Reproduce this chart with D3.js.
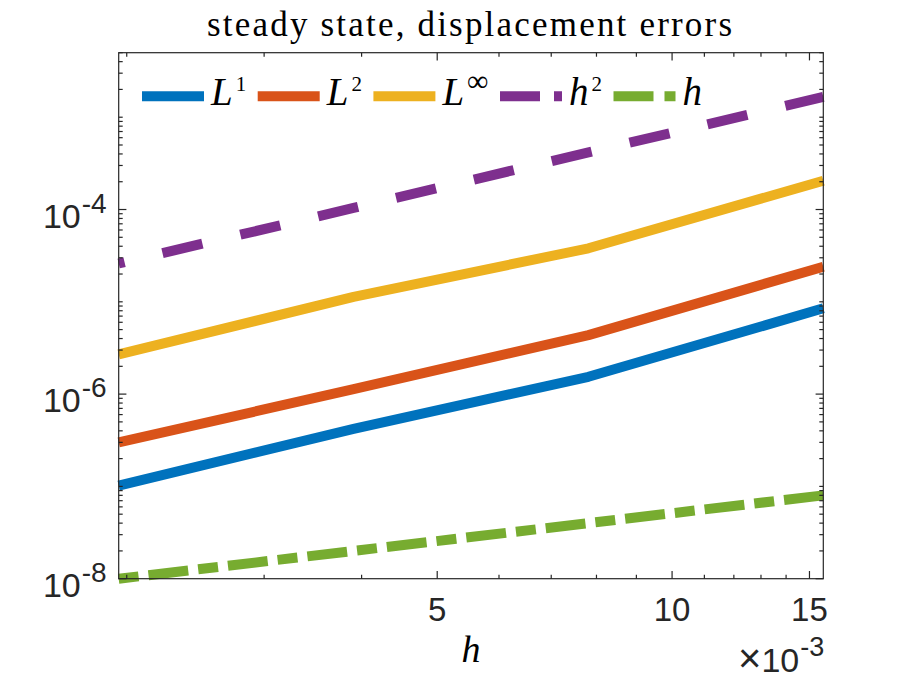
<!DOCTYPE html>
<html><head><meta charset="utf-8">
<script src="https://cdn.jsdelivr.net/npm/d3@7/dist/d3.min.js"></script>
<style>body{margin:0;background:#fff}svg{display:block}</style>
</head><body>
<svg id="chart" width="910" height="680"></svg>
<script>
// ---- data ----
const hValues  = [0.001953125, 0.00390625, 0.0078125, 0.015625];
const errL1    = [1.02e-7, 4.2e-7, 1.54e-6, 8.5e-6];
const errL2    = [3.0e-7, 1.13e-6, 4.36e-6, 2.4e-5];
const errLinf  = [2.7e-6, 1.13e-5, 3.8e-5, 2.05e-4];
const refH2    = [2.6e-5, 1.04e-4, 4.15e-4, 1.66e-3];
const refH     = [1.0e-8, 2.0e-8, 4.0e-8, 8.0e-8];
const seriesBase = ["L", "L", "L", "h", "h"];
const seriesSup  = ["1", "2", "\u221E", "2", ""];
const xTicks = [0.005, 0.010, 0.015];
const xTickLabels = ["5", "10", "15"];
const yTicks = [1e-8, 1e-6, 1e-4];
const yTickExponents = ["-8", "-6", "-4"];
const xDomain = [0.001953125, 0.015625];
const yDomain = [1e-8, 5e-3];
const titleText = "steady state, displacement errors";
const xLabelText = "h";
const xExponentText = "-3";

// ---- styles ----
const colors = ["#0072BD", "#D95319", "#EDB120", "#7E2F8E", "#77AC30"];
const dashes = [null, null, null, "41,39", "20,10,40,10"];
const dashOffsets = [0, 0, 0, 35, 0];
const legendDashes = [null, null, null, "40,14", "40,11,12,10"];
const axisColor = "#262626";
const sans = "'Liberation Sans', Arial, sans-serif";
const serif = "'Liberation Serif', 'Times New Roman', serif";

const margin = {left: 118.7, right: 910 - 823.3, top: 52.7, bottom: 680 - 578.7};
const W = 910, H = 680;
const svg = d3.select("#chart");

const x = d3.scaleLog().domain(xDomain).range([margin.left, W - margin.right]);
const y = d3.scaleLog().domain(yDomain).range([H - margin.bottom, margin.top]);

const series = [errL1, errL2, errLinf, refH2, refH].map((vals, i) => ({
  values: hValues.map((h, j) => ({h, v: vals[j]})),
  color: colors[i], dash: dashes[i], offset: dashOffsets[i],
  base: seriesBase[i], sup: seriesSup[i], legendDash: legendDashes[i]
}));

// minor ticks
const xMinor = [];
for (let k = 2; k <= 15; k++) {
  const v = k * 1e-3;
  if (v < xDomain[0]) continue;
  if (k === 10 || xTicks.some(t => Math.abs(t - v) < 1e-9)) continue;
  xMinor.push(v);
}
const yMinor = [];
for (let e = -8; e <= -3; e++) {
  for (let k = 1; k <= 9; k++) {
    const v = k * Math.pow(10, e);
    if (v > yDomain[1] * 1.0001) continue;
    if (yTicks.some(t => Math.abs(Math.log10(t) - Math.log10(v)) < 1e-6)) continue;
    yMinor.push(v);
  }
}

const x0 = margin.left, x1 = W - margin.right, y0 = H - margin.bottom, y1 = margin.top;
const majorLen = 7.7, minorLen = 4;

// lines
const line = d3.line().x(d => x(d.h)).y(d => y(d.v));
const gLines = svg.append("g");
series.forEach(s => {
  gLines.append("path").datum(s.values)
    .attr("d", line)
    .attr("fill", "none")
    .attr("stroke", s.color)
    .attr("stroke-width", 10)
    .attr("stroke-linejoin", "round")
    .attr("stroke-linecap", "butt")
    .attr("stroke-dasharray", s.dash)
    .attr("stroke-dashoffset", s.offset);
});

// axes box and ticks
const gAx = svg.append("g").attr("stroke", axisColor).attr("stroke-width", 1.2);
gAx.append("rect").attr("x", x0).attr("y", y1).attr("width", x1 - x0).attr("height", y0 - y1)
  .attr("fill", "none");
function xt(vals, len) {
  vals.forEach(v => {
    const px = x(v);
    gAx.append("line").attr("x1", px).attr("x2", px).attr("y1", y0).attr("y2", y0 - len);
    gAx.append("line").attr("x1", px).attr("x2", px).attr("y1", y1).attr("y2", y1 + len);
  });
}
function yt(vals, len) {
  vals.forEach(v => {
    const py = y(v);
    gAx.append("line").attr("y1", py).attr("y2", py).attr("x1", x0).attr("x2", x0 + len);
    gAx.append("line").attr("y1", py).attr("y2", py).attr("x1", x1).attr("x2", x1 - len);
  });
}
xt(xTicks, majorLen); xt(xMinor, minorLen);
yt(yTicks, majorLen); yt(yMinor, minorLen);

// x tick labels
xTicks.forEach((t, i) => {
  svg.append("text").attr("x", x(t)).attr("y", y0 + 42.5)
    .attr("text-anchor", "middle").attr("font-family", sans).attr("font-size", 33)
    .attr("fill", axisColor).text(xTickLabels[i]);
});
// x exponent
const ex = svg.append("text").attr("x", x1 + 1).attr("y", 671.5).attr("text-anchor", "end")
  .attr("font-family", sans).attr("font-size", 34).attr("fill", axisColor);
ex.append("tspan").attr("font-size", 40).attr("font-weight", 300).text("\u00D7");
ex.append("tspan").text("10");
ex.append("tspan").attr("font-size", 27).attr("dy", -16).attr("dx", 1).text(xExponentText);

// y tick labels
yTicks.forEach((t, i) => {
  const tx = svg.append("text").attr("x", x0 - 12).attr("y", y(t) + 18)
    .attr("text-anchor", "end").attr("font-family", sans).attr("font-size", 34)
    .attr("fill", axisColor);
  tx.append("tspan").text("10");
  tx.append("tspan").attr("font-size", 28).attr("dy", -15).attr("dx", 1).text(yTickExponents[i]);
});

// title
svg.append("text").attr("x", (x0 + x1) / 2 - 1.5).attr("y", 36)
  .attr("text-anchor", "middle").attr("font-family", serif).attr("font-size", 35)
  .attr("textLength", 525).attr("lengthAdjust", "spacing")
  .attr("fill", "#000").text(titleText);

// x label
svg.append("text").attr("x", (x0 + x1) / 2).attr("y", 662)
  .attr("text-anchor", "middle").attr("font-family", serif).attr("font-style", "italic")
  .attr("font-size", 38).attr("fill", "#000").text(xLabelText);

// legend
const legY = 96.3;
let lx = 142;
const lineLen = 62, gapLabel = 7, gapNext = 14.5;
series.forEach(s => {
  svg.append("line").attr("x1", lx).attr("x2", lx + lineLen).attr("y1", legY).attr("y2", legY)
    .attr("stroke", s.color).attr("stroke-width", 10).attr("stroke-linecap", "butt")
    .attr("stroke-dasharray", s.legendDash);
  const t = svg.append("text").attr("x", lx + lineLen + gapLabel).attr("y", 105)
    .attr("font-family", serif).attr("font-size", 39).attr("fill", "#000");
  t.append("tspan").attr("font-style", "italic").text(s.base);
  if (s.sup) t.append("tspan").attr("font-size", s.sup === "\u221E" ? 30 : 21)
    .attr("dy", -14).attr("dx", 3).text(s.sup);
  const w = t.node().getComputedTextLength();
  lx = lx + lineLen + gapLabel + w + gapNext;
});
</script>
</body></html>
